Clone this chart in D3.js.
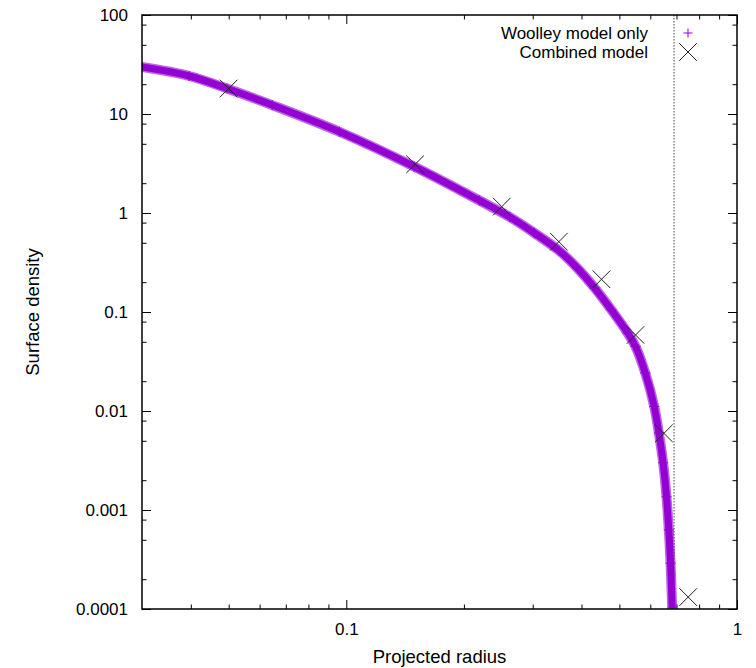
<!DOCTYPE html>
<html>
<head>
<meta charset="utf-8">
<script src="https://cdn.jsdelivr.net/npm/d3@7"></script>
<style>
    body { margin: 0; background: #fff; }
    svg text { font-family: "Liberation Sans", Arial, sans-serif; fill: #000; }
</style>
</head>
<body>
<svg id="chart" width="756" height="668"></svg>
<script>
// Woolley model only
var woolleyR = [0.0300, 0.0396, 0.0495, 0.0646, 0.0960, 0.149, 0.219, 0.262, 0.303, 0.350,
    0.391, 0.432, 0.477, 0.525, 0.550, 0.5825, 0.614, 0.631, 0.647, 0.660, 0.669, 0.676, 0.6825];
var woolleySigma = [29.8, 24.2, 18.1, 12.3, 6.62, 2.95, 1.34, 0.911, 0.628, 0.418,
    0.275, 0.175, 0.105, 0.0614, 0.0448, 0.0242, 0.0111, 0.0060, 0.0030, 0.00136, 0.00063, 0.00029, 0.000102];

// Combined model
var combinedR = [0.05, 0.15, 0.25, 0.35, 0.45, 0.55, 0.65, 0.75];
var combinedSigma = [18.1, 3.10, 1.16, 0.513, 0.214, 0.0586, 0.00595, 0.000132];

// vertical dotted marker
var cutRadius = 0.69;

var xMajor = [0.1, 1];
var xMinor = [0.04, 0.05, 0.06, 0.07, 0.08, 0.09, 0.2, 0.3, 0.4, 0.5, 0.6, 0.7, 0.8, 0.9];
var yMajor = [0.0001, 0.001, 0.01, 0.1, 1, 10, 100];
var yMajorLabels = ["0.0001", "0.001", "0.01", "0.1", "1", "10", "100"];
var yMinorMult = [2, 5, 8];

var legendLabels = ["Woolley model only", "Combined model"];

var purple = "#9400d3";

var margin = {left: 142, top: 15, right: 19, bottom: 59};
var W = 756, H = 668;
var iw = W - margin.left - margin.right;
var ih = H - margin.top - margin.bottom;

var svg = d3.select("#chart");

var scaleX = d3.scaleLog().domain([0.03, 1]).range([0, iw]);
var scaleY = d3.scaleLog().domain([0.0001, 100]).range([ih, 0]);

var yMinor = [];
yMajor.slice(0, -1).forEach(function (d) {
    yMinorMult.forEach(function (m) {
        yMinor.push(d * m);
    });
});

var g = svg.append("g").attr("transform", "translate(" + margin.left + "," + margin.top + ")");

svg.append("defs").append("clipPath").attr("id", "clip")
    .append("rect").attr("width", iw).attr("height", ih);

function styleAxis(sel) {
    sel.select(".domain").remove();
    sel.selectAll("line").attr("stroke", "#000").attr("stroke-width", 1);
    sel.selectAll("text").style("font-size", "17px").attr("fill", "#000");
}

// bottom + top axes
g.append("g").attr("transform", "translate(0," + ih + ")")
    .call(d3.axisBottom(scaleX).tickValues(xMajor).tickSize(-9).tickPadding(14)
        .tickFormat(function (d) { return d === 1 ? "1" : "0.1"; }))
    .call(styleAxis);
g.append("g").attr("transform", "translate(0," + ih + ")")
    .call(d3.axisBottom(scaleX).tickValues(xMinor).tickSize(-4.5).tickFormat(""))
    .call(styleAxis);
g.append("g")
    .call(d3.axisTop(scaleX).tickValues(xMajor).tickSize(-9).tickFormat(""))
    .call(styleAxis);
g.append("g")
    .call(d3.axisTop(scaleX).tickValues(xMinor).tickSize(-4.5).tickFormat(""))
    .call(styleAxis);

// left + right axes
g.append("g")
    .call(d3.axisLeft(scaleY).tickValues(yMajor).tickSize(-9).tickPadding(14)
        .tickFormat(function (d, i) { return yMajorLabels[i]; }))
    .call(styleAxis);
g.append("g")
    .call(d3.axisLeft(scaleY).tickValues(yMinor).tickSize(-4.5).tickFormat(""))
    .call(styleAxis);
g.append("g").attr("transform", "translate(" + iw + ",0)")
    .call(d3.axisRight(scaleY).tickValues(yMajor).tickSize(-9).tickFormat(""))
    .call(styleAxis);
g.append("g").attr("transform", "translate(" + iw + ",0)")
    .call(d3.axisRight(scaleY).tickValues(yMinor).tickSize(-4.5).tickFormat(""))
    .call(styleAxis);

// dotted vertical line
g.append("line")
    .attr("x1", scaleX(cutRadius)).attr("x2", scaleX(cutRadius))
    .attr("y1", 0).attr("y2", ih)
    .attr("stroke", "#444").attr("stroke-width", 1)
    .attr("stroke-dasharray", "1.5,1.5");

var plot = g.append("g").attr("clip-path", "url(#clip)");

var woolley = woolleyR.map(function (r, i) {
    return {r: r, s: woolleySigma[i]};
});
var combined = combinedR.map(function (r, i) {
    return {r: r, s: combinedSigma[i]};
});

var line = d3.line()
    .x(function (d) { return scaleX(d.r); })
    .y(function (d) { return scaleY(d.s); })
    .curve(d3.curveCatmullRom.alpha(0.5));

// thick band standing in for the dense run of + points
plot.append("path")
    .datum(woolley)
    .attr("d", line)
    .attr("fill", "none")
    .attr("stroke", purple)
    .attr("stroke-opacity", 0.6)
    .attr("stroke-width", 10)
    .attr("stroke-linejoin", "round");
plot.append("path")
    .datum(woolley)
    .attr("d", line)
    .attr("fill", "none")
    .attr("stroke", purple)
    .attr("stroke-width", 7);

function plusPath(x, y, h) {
    return "M" + (x - h) + "," + y + "H" + (x + h) + "M" + x + "," + (y - h) + "V" + (y + h);
}
function crossPath(x, y, h) {
    return "M" + (x - h) + "," + (y - h) + "L" + (x + h) + "," + (y + h) +
        "M" + (x - h) + "," + (y + h) + "L" + (x + h) + "," + (y - h);
}

plot.selectAll(".woolley")
    .data(woolley)
    .enter().append("path")
    .classed("woolley", true)
    .attr("d", function (d) { return plusPath(scaleX(d.r), scaleY(d.s), 5); })
    .attr("stroke", purple)
    .attr("stroke-width", 1);

plot.selectAll(".combined")
    .data(combined)
    .enter().append("path")
    .classed("combined", true)
    .attr("d", function (d) { return crossPath(scaleX(d.r), scaleY(d.s), 8.8); })
    .attr("stroke", "#222")
    .attr("stroke-width", 1)
    .attr("fill", "none");

// frame
g.append("rect")
    .attr("width", iw).attr("height", ih)
    .attr("fill", "none").attr("stroke", "#000").attr("stroke-width", 1.5);

// legend
var legendY = [33, 52];
var legend = g.append("g");
legend.selectAll("text")
    .data(legendLabels)
    .enter().append("text")
    .attr("x", 648 - margin.left)
    .attr("y", function (d, i) { return legendY[i] - margin.top; })
    .attr("dy", "0.35em")
    .attr("text-anchor", "end")
    .style("font-size", "17px")
    .text(function (d) { return d; });
legend.append("path")
    .attr("d", plusPath(688 - margin.left, legendY[0] - margin.top, 4.5))
    .attr("stroke", purple).attr("stroke-width", 1);
legend.append("path")
    .attr("d", crossPath(688 - margin.left, legendY[1] - margin.top, 8.8))
    .attr("stroke", "#222").attr("stroke-width", 1);

// axis titles
svg.append("text")
    .attr("x", margin.left + iw / 2)
    .attr("y", 663)
    .attr("text-anchor", "middle")
    .style("font-size", "18.5px")
    .text("Projected radius");
svg.append("text")
    .attr("transform", "translate(39," + (margin.top + ih / 2) + ") rotate(-90)")
    .attr("text-anchor", "middle")
    .style("font-size", "18.5px")
    .text("Surface density");
</script>
</body>
</html>
